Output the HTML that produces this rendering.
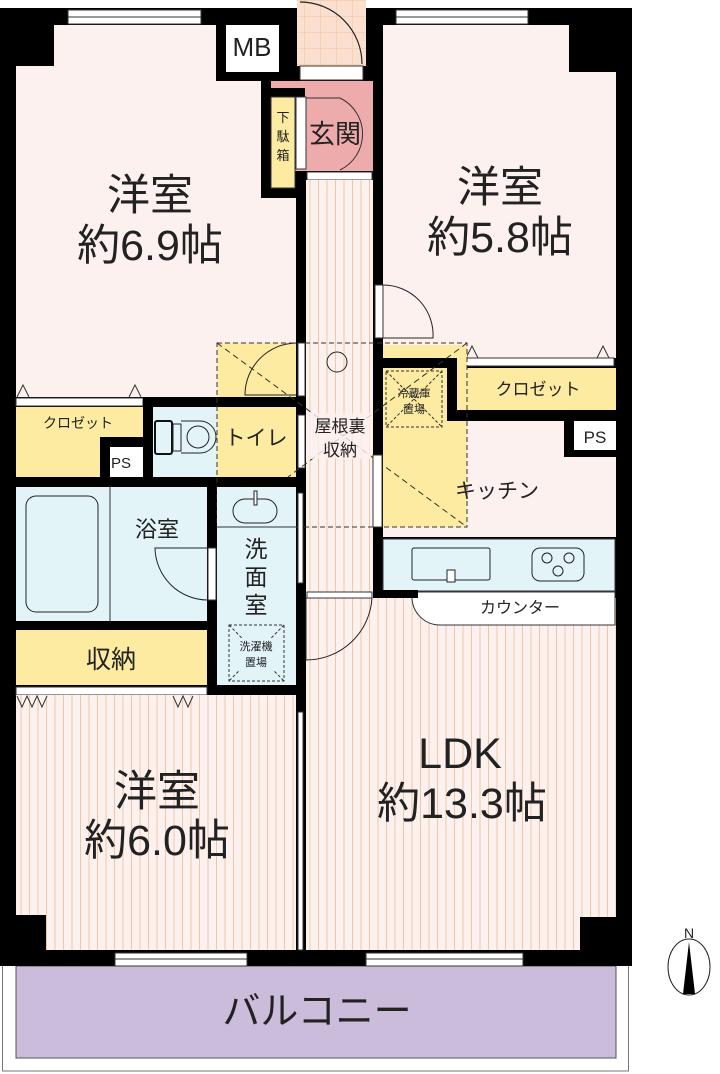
<!DOCTYPE html><html><head><meta charset="utf-8"><style>body{margin:0;background:#fff}svg{display:block}text{font-family:"Liberation Sans","Noto Sans CJK JP",sans-serif;fill:#222}</style></head><body>
<svg width="720" height="1074" viewBox="0 0 720 1074" xmlns="http://www.w3.org/2000/svg">
<defs>
<pattern id="st" width="8.5" height="10" patternUnits="userSpaceOnUse"><rect width="8.5" height="10" fill="#fdf1ef"/><line x1="4" y1="0" x2="4" y2="10" stroke="#ecc9a6" stroke-width="1"/></pattern>
<pattern id="tile" width="16" height="16" patternUnits="userSpaceOnUse"><rect width="16" height="16" fill="#fbe0cf"/><path d="M0 0H16M0 0V16" stroke="#f6bf98" stroke-width="1"/></pattern>
</defs>
<rect x="2.5" y="960" width="626" height="111" fill="#fff" stroke="#777"/>
<rect x="16" y="966" width="600" height="92" fill="#cbbcdc" stroke="#555"/>
<text x="317" y="1024" font-size="38" text-anchor="middle">バルコニー</text>
<rect x="0" y="8" width="632" height="958" fill="#000"/>
<rect x="297" y="0" width="69" height="66" fill="url(#tile)"/>
<rect x="300" y="66" width="63" height="14" fill="#fff" stroke="#333"/>
<path d="M300 2 A62 62 0 0 1 362 64" fill="none" stroke="#222" stroke-width="1.2"/>
<path d="M54 25H216V81H261V198H296V397H16V66H54Z" fill="#fdf1ef"/>
<rect x="226" y="25" width="53" height="47" fill="#fff"/>
<text x="252" y="56" font-size="26" text-anchor="middle">MB</text>
<rect x="68" y="10" width="133" height="14" fill="#fff" stroke="#333"/><line x1="68" y1="17" x2="201" y2="17" stroke="#333"/>
<rect x="271" y="81" width="102" height="90" fill="#eeabab"/>
<rect x="261" y="81" width="10" height="117" fill="#000"/><rect x="271" y="88" width="34" height="9" fill="#000"/>
<rect x="271" y="97" width="24" height="91" fill="#fdeba1" stroke="#333"/>
<rect x="296" y="97" width="10" height="72" fill="#fff" stroke="#333"/>
<path d="M306 98H340M340 98A40 40 0 0 1 340 170" fill="none" stroke="#333"/>
<text x="283" y="122" font-size="13" text-anchor="middle">下</text><text x="283" y="141" font-size="13" text-anchor="middle">駄</text><text x="283" y="160" font-size="13" text-anchor="middle">箱</text>
<text x="335" y="143" font-size="26" text-anchor="middle">玄関</text>
<rect x="307" y="172" width="65" height="8" fill="#fff" stroke="#333"/>
<rect x="306" y="180" width="67" height="418" fill="url(#st)"/>
<path d="M383 25H569V72H616V358H383Z" fill="#fdf1ef"/>
<rect x="396" y="10" width="132" height="14" fill="#fff" stroke="#333"/><line x1="396" y1="17" x2="528" y2="17" stroke="#333"/>
<text x="500" y="202" font-size="43" text-anchor="middle">洋室</text>
<text x="500" y="252" font-size="43" text-anchor="middle">約5.8帖</text>
<rect x="375" y="285" width="8" height="53" fill="#fff" stroke="#333"/>
<path d="M383 285A50 50 0 0 1 433 338H383" fill="none" stroke="#222"/>
<rect x="383" y="358" width="233" height="10" fill="#000"/>
<rect x="457" y="358" width="157" height="8" fill="#fff" stroke="#333"/>
<path d="M466 358l6-12 6 12M597 358l6-12 6 12" fill="none" stroke="#333"/>
<rect x="457" y="368" width="159" height="42" fill="#fdeba1"/>
<text x="538" y="395" font-size="17" text-anchor="middle">クロゼット</text>
<rect x="383" y="421" width="233" height="116" fill="#fdf1ef"/>
<rect x="383" y="345" width="84" height="182" fill="#fdeba1"/>
<rect x="383" y="358" width="74" height="10" fill="#000"/><rect x="447" y="358" width="10" height="63" fill="#000"/><rect x="447" y="410" width="169" height="11" fill="#000"/>
<rect x="564" y="410" width="52" height="47" fill="#000"/><rect x="574" y="421" width="42" height="29" fill="#fff"/>
<text x="595" y="443" font-size="17" text-anchor="middle">PS</text>
<rect x="386" y="371" width="56" height="56" fill="none" stroke="#333" stroke-dasharray="3 2"/>
<path d="M386 371L442 427M442 371L386 427" stroke="#333" stroke-dasharray="3 2"/>
<text x="414" y="397" font-size="11" text-anchor="middle">冷蔵庫</text><text x="414" y="413" font-size="11" text-anchor="middle">置場</text>
<text x="497" y="498" font-size="21" text-anchor="middle">キッチン</text>
<rect x="383" y="539" width="232" height="52" fill="#e2f4f8" stroke="#333"/>
<rect x="412" y="548" width="78" height="32" rx="2" fill="none" stroke="#222"/><rect x="447" y="570" width="8" height="12" fill="#fff" stroke="#222"/>
<rect x="532" y="548" width="52" height="33" rx="8" fill="none" stroke="#222"/>
<circle cx="547" cy="558" r="5" fill="none" stroke="#222"/><circle cx="569" cy="558" r="5" fill="none" stroke="#222"/><circle cx="558" cy="571" r="5" fill="none" stroke="#222"/>
<path d="M306 598H616V917H580V950H306Z" fill="url(#st)"/>
<path d="M412 592H615V625H440A28 28 0 0 1 412 597Z" fill="#fff" stroke="#333"/>
<text x="520" y="613" font-size="16" text-anchor="middle">カウンター</text>
<rect x="373" y="590" width="45" height="8" fill="#000"/>
<text x="460" y="768" font-size="43" text-anchor="middle">LDK</text>
<text x="462" y="818" font-size="43" text-anchor="middle">約13.3帖</text>
<rect x="366" y="953" width="157" height="13" fill="#fff" stroke="#333"/><line x1="366" y1="959" x2="523" y2="959" stroke="#333"/>
<path d="M306 598H372M306 598V660A66 66 0 0 0 372 598" fill="none" stroke="#222"/>
<rect x="307" y="592" width="65" height="6" fill="#fff" stroke="#333"/>
<text x="150" y="210" font-size="43" text-anchor="middle">洋室</text>
<text x="150" y="260" font-size="43" text-anchor="middle">約6.9帖</text>
<rect x="16" y="398" width="127" height="8" fill="#fff" stroke="#333"/>
<path d="M17 397l6-12 6 12M129 397l6-12 6 12" fill="none" stroke="#333"/>
<rect x="143" y="397" width="163" height="10" fill="#000"/>
<rect x="16" y="407" width="127" height="70" fill="#fdeba1"/>
<text x="78" y="428" font-size="14" text-anchor="middle">クロゼット</text>
<rect x="100" y="437" width="43" height="40" fill="#000"/><rect x="110" y="447" width="33" height="30" fill="#fff"/>
<text x="121" y="468" font-size="15" text-anchor="middle">PS</text>
<rect x="143" y="407" width="10" height="70" fill="#000"/>
<rect x="153" y="407" width="64" height="70" fill="#e2f4f8"/>
<rect x="217" y="407" width="79" height="70" fill="#fdeba1"/>
<rect x="217" y="343" width="79" height="54" fill="#fdeba1"/>
<rect x="155" y="421" width="17" height="33" rx="2" fill="none" stroke="#111" stroke-width="2"/>
<rect x="173" y="424" width="8" height="27" fill="none" stroke="#222"/>
<path d="M181 421H200A16 16 0 0 1 200 453H181" fill="none" stroke="#222"/><circle cx="198" cy="437" r="11" fill="none" stroke="#222"/>
<text x="256" y="445" font-size="21" text-anchor="middle">トイレ</text>
<rect x="298" y="343" width="7" height="53" fill="#fff" stroke="#333"/><rect x="298" y="415" width="7" height="53" fill="#fff" stroke="#333"/>
<path d="M296 395H245A52 52 0 0 1 296 343" fill="none" stroke="#222"/>
<rect x="217" y="343" width="250" height="184" fill="none" stroke="#333" stroke-dasharray="5 3"/>
<path d="M217 343L467 527M467 343L288 477" stroke="#333" stroke-dasharray="6 4"/>
<circle cx="337" cy="362" r="10" fill="none" stroke="#222"/>
<rect x="307" y="413" width="64" height="46" fill="#fdf1ef" opacity="0.8"/>
<text x="340" y="432" font-size="17" text-anchor="middle">屋根裏</text>
<text x="340" y="456" font-size="17" text-anchor="middle">収納</text>
<rect x="373" y="455" width="9" height="72" fill="#fff" stroke="#333"/>
<rect x="16" y="487" width="191" height="134" fill="#e2f4f8"/>
<line x1="110" y1="487" x2="110" y2="621" stroke="#333"/>
<rect x="26" y="496" width="72" height="116" rx="10" fill="none" stroke="#222"/>
<text x="157" y="537" font-size="22" text-anchor="middle">浴室</text>
<rect x="208" y="548" width="8" height="52" fill="#fff" stroke="#333"/>
<path d="M208 548H155A53 53 0 0 0 208 600" fill="none" stroke="#222"/>
<rect x="16" y="630" width="191" height="55" fill="#fdeba1"/>
<text x="111" y="668" font-size="25" text-anchor="middle">収納</text>
<rect x="16" y="687" width="191" height="8" fill="#fff" stroke="#333"/>
<rect x="217" y="487" width="79" height="198" fill="#e2f4f8"/>
<line x1="217" y1="527" x2="296" y2="527" stroke="#333"/>
<rect x="233" y="499" width="44" height="24" rx="12" fill="none" stroke="#222"/><rect x="254" y="491" width="3" height="14" fill="#fff" stroke="#222"/>
<text x="256" y="557" font-size="23" text-anchor="middle">洗</text><text x="256" y="585" font-size="23" text-anchor="middle">面</text><text x="256" y="613" font-size="23" text-anchor="middle">室</text>
<rect x="229" y="625" width="55" height="56" fill="none" stroke="#333" stroke-dasharray="3 2"/>
<path d="M229 625L284 681M284 625L229 681" stroke="#333" stroke-dasharray="3 2"/>
<rect x="236" y="638" width="42" height="32" fill="#e2f4f8"/>
<text x="256" y="650" font-size="11" text-anchor="middle">洗濯機</text><text x="256" y="666" font-size="11" text-anchor="middle">置場</text>
<rect x="298" y="493" width="5" height="90" fill="#fff" stroke="#333"/>
<path d="M16 695H296V950H46V915H16Z" fill="url(#st)"/>
<path d="M17 696l5 11 5-11 5 11 5-11 5 11 5-11M173 696l5 11 5-11 5 11 5-11" fill="none" stroke="#333"/>
<text x="157" y="806" font-size="43" text-anchor="middle">洋室</text>
<text x="157" y="855" font-size="43" text-anchor="middle">約6.0帖</text>
<rect x="298" y="712" width="5" height="238" fill="#fff" stroke="#333"/>
<rect x="115" y="953" width="132" height="13" fill="#fff" stroke="#333"/><line x1="115" y1="959" x2="247" y2="959" stroke="#333"/>
<ellipse cx="689" cy="967" rx="21" ry="28" fill="#fff" stroke="#222"/>
<path d="M689 942L683 994H695Z" fill="#000"/>
<text x="689" y="938" font-size="14" text-anchor="middle">N</text>
</svg>
</body></html>
